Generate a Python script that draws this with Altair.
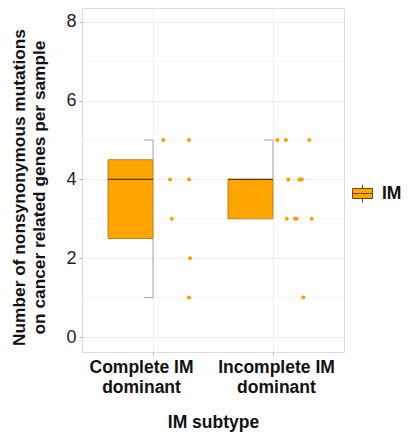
import altair as alt
import pandas as pd

# ---- data ----
groups = ["Complete IM dominant", "Incomplete IM dominant"]
group_pos = [1, 2]

# box statistics per group
q1 = [2.5, 3.0]
median = [4.0, 4.0]
q3 = [4.5, 4.0]
whisk_lo = [1.0, 3.0]
whisk_hi = [5.0, 5.0]

# individual samples (group index, value, jitter offset to the right of centre)
pt_group = [1, 1, 1, 1, 1, 1, 1,
            2, 2, 2, 2, 2, 2, 2, 2, 2, 2, 2, 2]
pt_value = [5, 5, 4, 4, 3, 2, 1,
            5, 5, 5, 4, 4, 4, 4, 3, 3, 3, 3, 1]
pt_jitter = [0.086, 0.30, 0.142, 0.30, 0.156, 0.308, 0.30,
             0.036, 0.108, 0.303, 0.128, 0.22, 0.23, 0.24, 0.114, 0.183, 0.197, 0.322, 0.253]

y_major = [0, 2, 4, 6, 8]
y_minor = [1, 3, 5, 7]

box_half = 0.375
cap_w = 0.075

boxes = pd.DataFrame({
    "g": group_pos,
    "left": [p - box_half for p in group_pos],
    "q1": q1, "median": median, "q3": q3,
    "lo": whisk_lo, "hi": whisk_hi,
    "capl": [p - cap_w for p in group_pos],
    "series": ["IM", "IM"],
})
pts = pd.DataFrame({
    "x": [g + j for g, j in zip(pt_group, pt_jitter)],
    "v": pt_value,
})
minor = pd.DataFrame({"m": y_minor})

xs = alt.Scale(domain=[0.408, 2.592], nice=False, zero=False)
ys = alt.Scale(domain=[-0.38, 8.35], nice=False, zero=False)

FONT = "Liberation Sans"

x_axis = alt.Axis(
    values=group_pos,
    title="IM subtype",
    labelExpr="datum.value == 1 ? ['Complete IM', 'dominant'] : ['Incomplete IM', 'dominant']",
    labelFont=FONT, labelFontSize=17.5, labelFontWeight="bold", labelColor="#111111",
    labelPadding=3, labelLineHeight=20,
    labelOffset={"condition": {"test": "datum.value == 1", "value": -12}, "value": 3},
    titleFont=FONT, titleFontSize=17.5, titleFontWeight="bold", titleColor="#111111",
    titlePadding=18,
    tickSize=3, tickColor="#b3b3b3", domain=False,
    grid=True, gridColor="#ebebeb", gridWidth=0.8,
)
y_axis = alt.Axis(
    values=y_major,
    title=["Number of nonsynonymous mutations", "on cancer related genes per sample"],
    labelFont=FONT, labelFontSize=18, labelColor="#222222", labelPadding=3,
    titleFont=FONT, titleFontSize=17.3, titleFontWeight="bold", titleColor="#111111",
    titleLineHeight=20, titlePadding=17, titleY=179,
    tickSize=3, tickColor="#b3b3b3", domain=False,
    grid=True, gridColor="#ebebeb", gridWidth=0.8,
)

base_axes = alt.Chart(pts).mark_point(opacity=0).encode(
    x=alt.X("x:Q", scale=xs, axis=x_axis),
    y=alt.Y("v:Q", scale=ys, axis=y_axis),
)

minor_grid = alt.Chart(minor).mark_rule(color="#f3f3f3", strokeWidth=0.8).encode(
    y=alt.Y("m:Q", scale=ys),
)

whisk_low = alt.Chart(boxes).mark_rule(color="#a6a6a6", strokeWidth=1).encode(
    x=alt.X("g:Q", scale=xs), y=alt.Y("lo:Q", scale=ys), y2="q1:Q")
whisk_high = alt.Chart(boxes).mark_rule(color="#a6a6a6", strokeWidth=1).encode(
    x=alt.X("g:Q", scale=xs), y=alt.Y("q3:Q", scale=ys), y2="hi:Q")
cap_low = alt.Chart(boxes).transform_filter("datum.lo < datum.q1").mark_rule(
    color="#a6a6a6", strokeWidth=1).encode(
    x=alt.X("capl:Q", scale=xs), x2="g:Q", y=alt.Y("lo:Q", scale=ys))
cap_high = alt.Chart(boxes).mark_rule(color="#a6a6a6", strokeWidth=1).encode(
    x=alt.X("capl:Q", scale=xs), x2="g:Q", y=alt.Y("hi:Q", scale=ys))

box = alt.Chart(boxes).mark_rect(stroke="#a87410", strokeWidth=0.8).encode(
    x=alt.X("left:Q", scale=xs), x2="g:Q",
    y=alt.Y("q1:Q", scale=ys), y2="q3:Q",
    fill=alt.Fill("series:N",
                  scale=alt.Scale(domain=["IM"], range=["#FFA500"]),
                  legend=alt.Legend(
                      title=None, orient="none", legendX=270, legendY=175,
                      symbolType="M-1,-0.5H1V0.5H-1Z M-1,0H1 M0,-0.5V-0.9 M0,0.5V0.9",
                      symbolSize=400, symbolStrokeColor="#6b4a00", symbolStrokeWidth=1,
                      labelFont=FONT, labelFontSize=17.5, labelFontWeight="bold",
                      labelColor="#111111", labelOffset=9,
                  )),
)
med = alt.Chart(boxes).mark_rule(color="#5a3d00", strokeWidth=1.2).encode(
    x=alt.X("left:Q", scale=xs), x2="g:Q", y=alt.Y("median:Q", scale=ys))

points = alt.Chart(pts).mark_circle(color="#F5A300", size=16, opacity=1).encode(
    x=alt.X("x:Q", scale=xs), y=alt.Y("v:Q", scale=ys))

chart = alt.layer(
    base_axes, minor_grid, whisk_low, whisk_high, cap_low, cap_high, box, med, points
).properties(
    width=262, height=344,
    autosize=alt.AutoSizeParams(type="none"),
    padding={"left": 74, "top": 0, "right": 62, "bottom": 87},
).configure_view(
    stroke="#b3b3b3", strokeWidth=1,
).configure(background="white")

chart.save("out.html", embed_options={"renderer": "svg", "actions": False})
